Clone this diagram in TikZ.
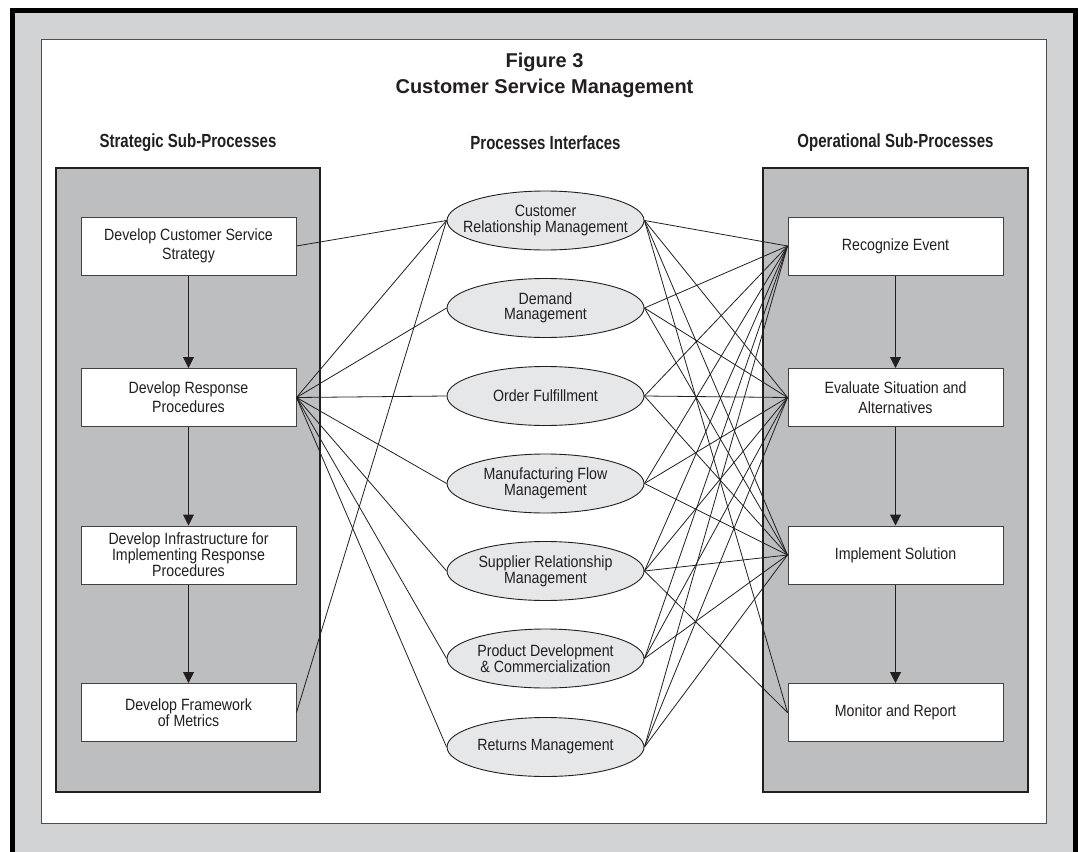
\documentclass[tikz,border=0pt]{standalone}
\usepackage{fontspec}
\setmainfont{Liberation Sans}
\newfontfamily\condf[FakeStretch=0.87]{Liberation Sans}
\newfontfamily\hdrf[FakeStretch=0.79]{Liberation Sans Bold}
\usetikzlibrary{arrows.meta,shapes.geometric}
\definecolor{frameg}{HTML}{D1D3D4}
\definecolor{panelg}{HTML}{BCBEC0}
\definecolor{ellg}{HTML}{E6E7E8}
\definecolor{ink}{HTML}{231F20}
\begin{document}
\begin{tikzpicture}[x=1pt,y=-1pt,
  procbox/.style={draw=ink!85,fill=white,line width=1pt,minimum width=215pt,minimum height=58pt,inner sep=0pt,align=center,text=ink,font=\condf\fontsize{16.3}{19}\selectfont},
  iface/.style={ellipse,draw=ink,fill=ellg,line width=0.9pt,minimum width=197pt,minimum height=59pt,inner xsep=-25pt,inner ysep=0pt,align=center,text=ink,font=\condf\fontsize{16.3}{15.5}\selectfont},
  panel/.style={draw=ink,fill=panelg,line width=1.2pt},
  link/.style={draw=ink,line width=0.8pt},
  flow/.style={draw=ink,line width=1pt,-{Triangle[length=11pt,width=11pt]}},
  hdr/.style={text=ink,font=\hdrf\fontsize{19}{22}\selectfont},
  ttl/.style={text=ink,align=center,font=\bfseries\fontsize{20}{26}\selectfont},
]
\useasboundingbox (0,0) rectangle (1078,851);
\clip (0,0) rectangle (1078,851);
% frame
\draw[line width=5.5pt,fill=frameg] (12.5,10.5) rectangle (1075.5,880);
\draw[draw=ink!80,line width=1pt,fill=white] (41.5,39.5) rectangle (1046.5,823);
% title
\node[ttl] (title) at (544.5,75) {Figure 3\\Customer Service Management};
% headers
\node[hdr] (hl) at (188,143) {Strategic Sub-Processes};
\node[hdr] (hm) at (545.5,143) {Processes Interfaces};
\node[hdr] (hr) at (895.5,143) {Operational Sub-Processes};
% panels
\draw[panel] (56,168) rectangle (320,792);
\draw[panel] (763,168) rectangle (1028,792);
% left boxes
\node[procbox] (l1) at (188.5,246) {Develop Customer Service\\Strategy};
\node[procbox] (l2) at (188.5,397.5) {Develop Response\\Procedures};
\node[procbox,font=\condf\fontsize{16.3}{16}\selectfont] (l3) at (188.5,555) {Develop Infrastructure for\\Implementing Response\\Procedures};
\node[procbox,font=\condf\fontsize{16.3}{16}\selectfont] (l4) at (188.5,712.5) {Develop Framework\\of Metrics};
% right boxes
\node[procbox] (r1) at (895.5,246) {Recognize Event};
\node[procbox,font=\condf\fontsize{16.3}{20}\selectfont] (r2) at (895.5,397.5) {Evaluate Situation and\\Alternatives};
\node[procbox] (r3) at (895.5,555) {Implement Solution};
\node[procbox] (r4) at (895.5,712.5) {Monitor and Report};
% interfaces
\node[iface] (e1) at (545.5,220.5) {Customer\\Relationship Management};
\node[iface] (e2) at (545.5,308) {Demand\\Management};
\node[iface] (e3) at (545.5,396) {Order Fulfillment};
\node[iface] (e4) at (545.5,483.5) {Manufacturing Flow\\Management};
\node[iface,font=\condf\fontsize{16.3}{12.5}\selectfont] (e5) at (545.5,571) {Supplier Relationship\\Management};
\node[iface] (e6) at (545.5,658.5) {Product Development\\\& Commercialization};
\node[iface] (e7) at (545.5,747) {Returns Management};
% flows
\draw[flow] (l1) -- (l2);
\draw[flow] (l2) -- (l3);
\draw[flow] (l3) -- (l4);
\draw[flow] (r1) -- (r2);
\draw[flow] (r2) -- (r3);
\draw[flow] (r3) -- (r4);
% left links
\draw[link] (l1.east) -- (e1.west);
\foreach \i in {1,...,7} {\draw[link] (l2.east) -- (e\i.west);}
\draw[link] (l4.east) -- (e1.west);
% right links
\foreach \i in {1,...,7} {\foreach \j in {1,2,3} {\draw[link] (e\i.east) -- (r\j.west);}}
\draw[link] (e1.east) -- (r4.west);
\draw[link] (e5.east) -- (r4.west);
\end{tikzpicture}
\end{document}
